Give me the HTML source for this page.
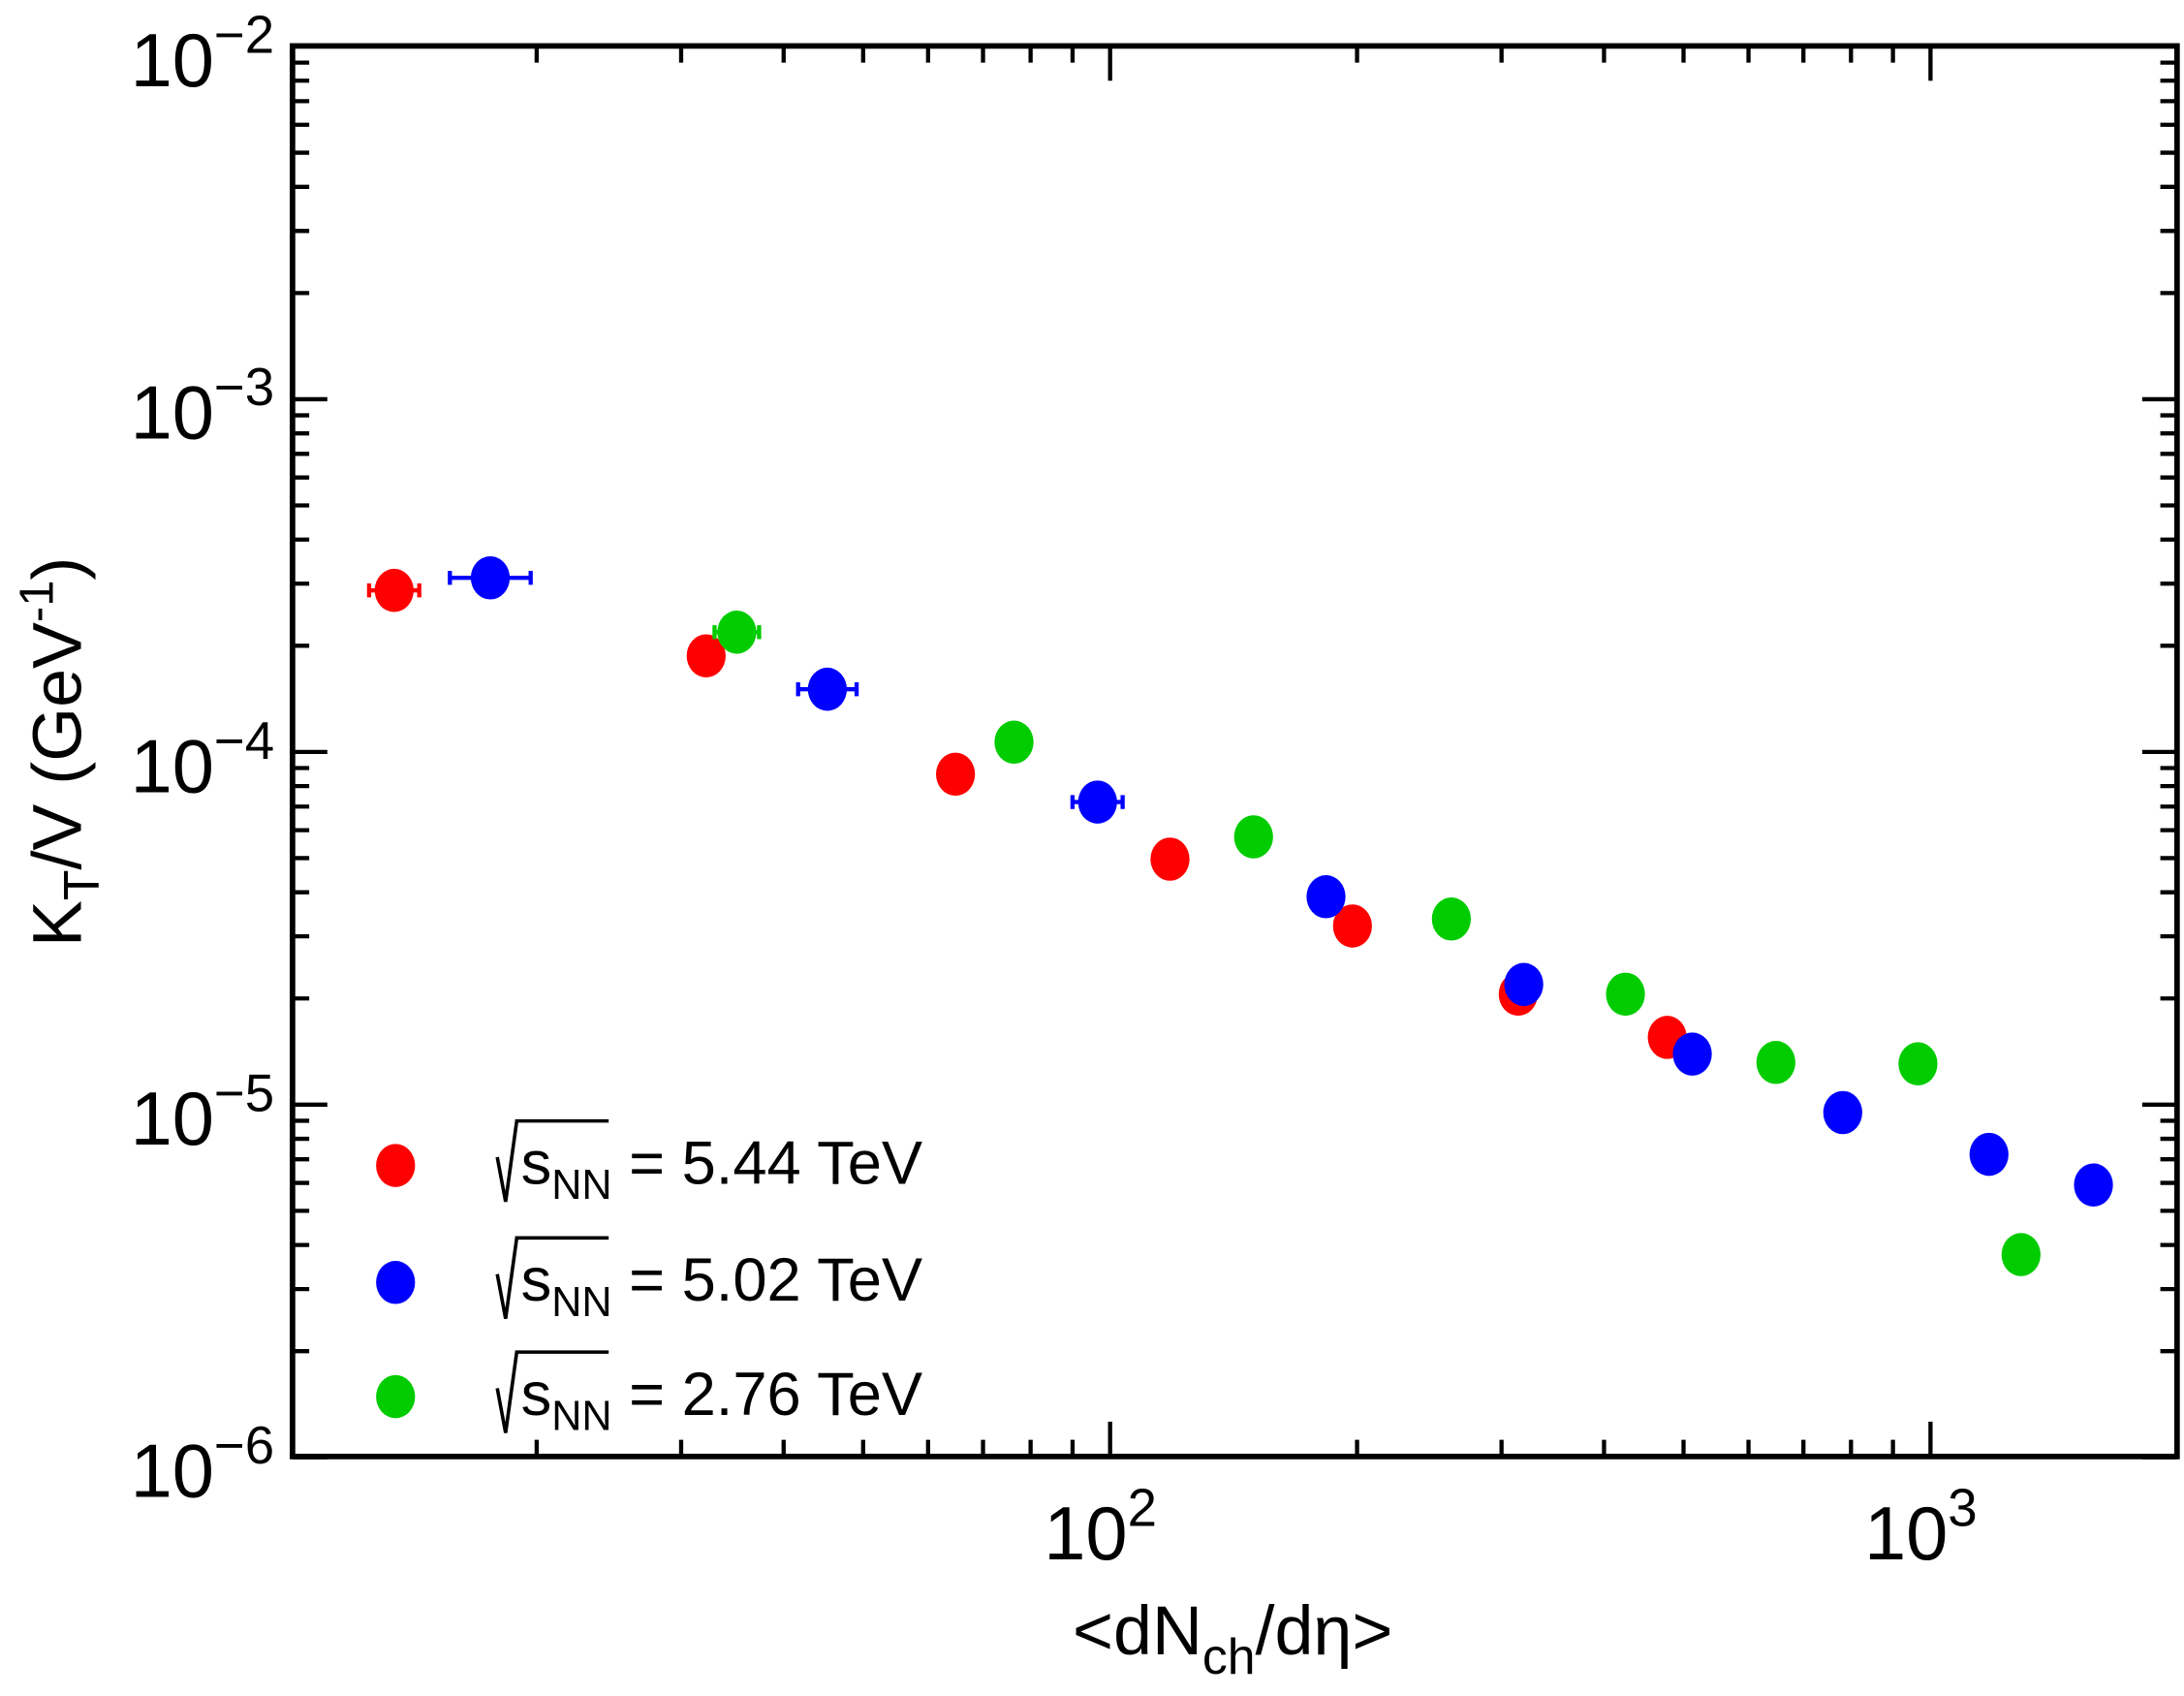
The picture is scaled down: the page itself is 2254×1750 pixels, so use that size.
<!DOCTYPE html>
<html><head><meta charset="utf-8"><style>
html,body{margin:0;padding:0;background:#fff;}
svg{display:block;}
text{font-family:"Liberation Sans",sans-serif;fill:#000;}
</style></head><body>
<svg id="s" width="2254" height="1750" viewBox="0 0 1568 1218" preserveAspectRatio="none" xmlns="http://www.w3.org/2000/svg">
<g id="ticks" stroke="#000" stroke-width="3"></g>
<rect x="210" y="33" width="1353" height="1013" fill="none" stroke="#000" stroke-width="4"/>
<g font-size="54" text-anchor="end">
<text x="197" y="62">10<tspan dy="-24" font-size="38">−2</tspan></text>
<text x="197" y="315">10<tspan dy="-24" font-size="38">−3</tspan></text>
<text x="197" y="569">10<tspan dy="-24" font-size="38">−4</tspan></text>
<text x="197" y="822">10<tspan dy="-24" font-size="38">−5</tspan></text>
<text x="197" y="1075">10<tspan dy="-24" font-size="38">−6</tspan></text>
</g>
<g font-size="54" text-anchor="middle">
<text x="790" y="1120">10<tspan dy="-24" font-size="38">2</tspan></text>
<text x="1379" y="1120">10<tspan dy="-24" font-size="38">3</tspan></text>
<text x="885" y="1188" font-size="50">&lt;dN<tspan dy="14" font-size="36">ch</tspan><tspan dy="-14">/dη&gt;</tspan></text>
</g>
<text transform="translate(58,540) rotate(-90)" font-size="50" text-anchor="middle">K<tspan dy="13" font-size="36">T</tspan><tspan dy="-13">/V (GeV</tspan><tspan dy="-20" font-size="34">-1</tspan><tspan dy="20">)</tspan></text>
<g id="pts"></g>
<g font-size="44">
<g id="leg"></g>
</g>
</svg>
<script>
var NS="http://www.w3.org/2000/svg";
function el(p,t,a){var e=document.createElementNS(NS,t);for(var k in a)e.setAttribute(k,a[k]);p.appendChild(e);return e;}
var T=document.getElementById('ticks');
function X(v){return 797+(Math.log10(v)-2)*589;}
function Y(v){return 540-(Math.log10(v)+4)*253.3;}
for(var d=-6;d<-2;d++){for(var m=1;m<10;m++){var y=Y(m*Math.pow(10,d));var L=m==1?25:12;
el(T,'line',{x1:210,x2:210+L,y1:y,y2:y});el(T,'line',{x1:1563,x2:1563-L,y1:y,y2:y});}}
for(var d=1;d<4;d++){for(var m=1;m<10;m++){var v=m*Math.pow(10,d);if(v<=10||v>2000)continue;var x=X(v);var L=m==1?25:12;
el(T,'line',{x1:x,x2:x,y1:1046,y2:1046-L});el(T,'line',{x1:x,x2:x,y1:33,y2:33+L});}}
var P=document.getElementById('pts');
var data=[
['#ff0000',[[283,424,18],[507,471],[686,556],[840,617],[971,665],[1090,714],[1197,745]]],
['#0000ff',[[352,415,29],[594,495,21],[788,576,18],[952,644],[1094,707],[1215,757],[1323,799],[1428,829],[1503,851]]],
['#00cc00',[[529,454,16],[728,533],[900,601],[1042,660],[1167,714],[1275,763],[1377,764],[1451,901]]]];
data.forEach(function(s){s[1].forEach(function(p){
if(p[2]){el(P,'line',{x1:p[0]-p[2],x2:p[0]+p[2],y1:p[1],y2:p[1],stroke:s[0],'stroke-width':3});
el(P,'line',{x1:p[0]-p[2],x2:p[0]-p[2],y1:p[1]-5,y2:p[1]+5,stroke:s[0],'stroke-width':3});
el(P,'line',{x1:p[0]+p[2],x2:p[0]+p[2],y1:p[1]-5,y2:p[1]+5,stroke:s[0],'stroke-width':3});}
el(P,'ellipse',{cx:p[0],cy:p[1],rx:14,ry:15.5,fill:s[0]});});});
var G=document.getElementById('leg');
[['#ff0000',837,'5.44'],['#0000ff',921,'5.02'],['#00cc00',1003,'2.76']].forEach(function(l){
el(G,'ellipse',{cx:284,cy:l[1],rx:14,ry:15.5,fill:l[0]});
el(G,'path',{d:'M357,'+(l[1]-6)+' L363,'+(l[1]+26)+' L371,'+(l[1]-32)+' L437,'+(l[1]-32),fill:'none',stroke:'#000','stroke-width':2.5});
var t=el(G,'text',{x:374,y:l[1]+13});
t.innerHTML='s<tspan dy="11" font-size="30">NN</tspan><tspan dy="-11"> = '+l[2]+' TeV</tspan>';
});
</script>
</body></html>
